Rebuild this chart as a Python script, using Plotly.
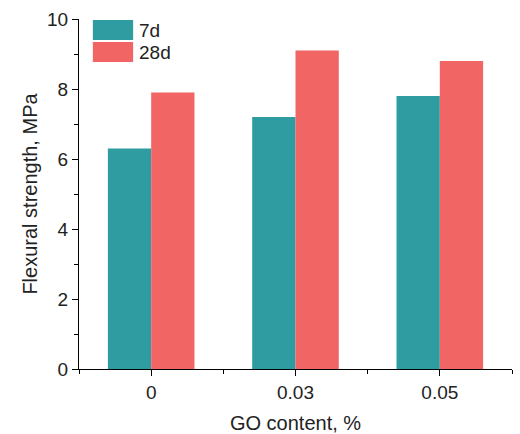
import plotly.graph_objects as go

# Graphene oxide (GO) dosage groups and flexural strength at two curing ages
go_content = ["0", "0.03", "0.05"]
strength_7d = [6.3, 7.2, 7.8]
strength_28d = [7.9, 9.1, 8.8]
series_names = ["7d", "28d"]
series_colors = ["#2f9ca1", "#f26565"]

positions = list(range(len(go_content)))
font_family = "Liberation Sans, Arial, sans-serif"

fig = go.Figure()
for name, values, color in zip(series_names, [strength_7d, strength_28d], series_colors):
    fig.add_trace(go.Bar(
        x=positions, y=values, name=name,
        marker=dict(color=color, line=dict(width=0)),
        showlegend=False,
    ))

axis_common = dict(
    showline=True, linecolor="black", linewidth=1.3,
    ticks="outside", ticklen=6, tickwidth=1.3, tickcolor="black",
    showgrid=False, zeroline=False, automargin=False,
    tickfont=dict(family=font_family, size=19, color="#222"),
    minor=dict(ticks="outside", ticklen=4, tickwidth=1.3, tickcolor="black", showgrid=False),
)

fig.update_xaxes(
    **axis_common,
    range=[-0.5, 2.5],
    tickmode="array", tickvals=positions, ticktext=go_content,
    title=dict(text="GO content, %", font=dict(family=font_family, size=20, color="#222"), standoff=16),
)
fig.update_xaxes(minor=dict(tickmode="linear", tick0=-0.5, dtick=1))

fig.update_yaxes(
    **axis_common,
    range=[0, 10],
    tickmode="linear", tick0=0, dtick=2,
    title=dict(text="Flexural strength, MPa", font=dict(family=font_family, size=20, color="#222"), standoff=3),
)
fig.update_yaxes(minor=dict(tickmode="linear", tick0=0, dtick=1))

# Legend drawn as large swatches in the upper-left corner of the plot area
swatch_x0, swatch_x1 = 0.032, 0.125
swatch_rows = [(0.997, 0.94), (0.934, 0.877)]
for (y1, y0), name, color in zip(swatch_rows, series_names, series_colors):
    fig.add_shape(type="rect", xref="paper", yref="paper",
                  x0=swatch_x0, x1=swatch_x1, y0=y0, y1=y1,
                  fillcolor=color, line=dict(width=0))
    fig.add_annotation(xref="paper", yref="paper", x=swatch_x1 + 0.008, y=(y0 + y1) / 2,
                       text=name, showarrow=False, xanchor="left", yanchor="middle",
                       font=dict(family=font_family, size=19, color="#222"))

fig.update_layout(
    width=520, height=434,
    margin=dict(l=79, r=8, t=19, b=65),
    barmode="group", bargap=0.4, bargroupgap=0,
    plot_bgcolor="white", paper_bgcolor="white",
)

fig.write_html("out.html")
